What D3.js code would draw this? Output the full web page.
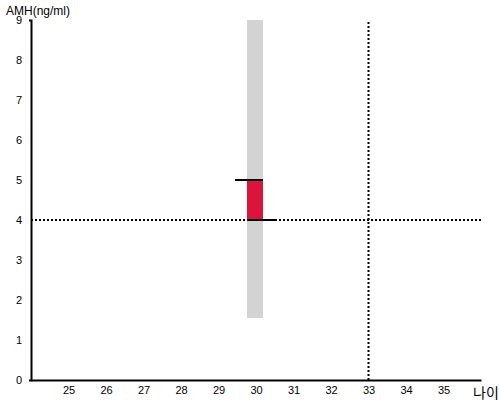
<!DOCTYPE html>
<html>
<head>
  <meta charset="utf-8">
  <script src="https://d3js.org/d3.v7.min.js"></script>
  <style>
    body { margin: 0; background: #fff; }
    text { font-family: "Liberation Sans", Arial, sans-serif; }
  </style>
</head>
<body>
<svg id="chart"></svg>
<script>
  // data
  var xTicks = [25, 26, 27, 28, 29, 30, 31, 32, 33, 34, 35];
  var yTicks = [0, 1, 2, 3, 4, 5, 6, 7, 8, 9];
  var myAge = 30;
  var rangeBand = [1.55, 9];     // grey band: normal AMH range at age
  var amhBar = [4, 5];           // red bar: value span
  var refAmh = 4;                // dotted horizontal
  var refAge = 33;               // dotted vertical

  var width = 500, height = 400;
  var svg = d3.select("#chart").attr("width", width).attr("height", height);

  var x = d3.scaleLinear().domain([24, 36]).range([31, 481]);
  var y = d3.scaleLinear().domain([0, 9]).range([380, 20]);

  var bw = 16;

  // grey band
  svg.append("rect")
    .attr("x", x(myAge) - bw / 2 - 1)
    .attr("width", bw)
    .attr("y", y(rangeBand[1]))
    .attr("height", y(rangeBand[0]) - y(rangeBand[1]))
    .attr("fill", "#d3d3d3");

  // red bar
  svg.append("rect")
    .attr("x", x(myAge) - bw / 2 - 1)
    .attr("width", bw)
    .attr("y", y(amhBar[1]))
    .attr("height", y(amhBar[0]) - y(amhBar[1]))
    .attr("fill", "#dc143c");

  // dotted reference lines
  svg.append("line")
    .attr("x1", x(24)).attr("x2", x(36))
    .attr("y1", y(refAmh)).attr("y2", y(refAmh))
    .attr("stroke", "#000").attr("stroke-width", 2)
    .attr("stroke-dasharray", "2,2");

  svg.append("line")
    .attr("x1", x(refAge)).attr("x2", x(refAge))
    .attr("y1", y(9) + 2).attr("y2", y(0))
    .attr("stroke", "#000").attr("stroke-width", 2)
    .attr("stroke-dasharray", "2,2");

  // caps on the bar
  svg.append("line")
    .attr("x1", x(myAge) - bw / 2 - 13).attr("x2", x(myAge) + bw / 2 - 1)
    .attr("y1", y(amhBar[1])).attr("y2", y(amhBar[1]))
    .attr("stroke", "#000").attr("stroke-width", 2);

  svg.append("line")
    .attr("x1", x(myAge) - bw / 2 - 1).attr("x2", x(myAge) + bw / 2 + 11)
    .attr("y1", y(amhBar[0])).attr("y2", y(amhBar[0]))
    .attr("stroke", "#000").attr("stroke-width", 2);

  // axes
  var xAxis = svg.append("g")
    .attr("transform", "translate(0," + y(0) + ")")
    .call(d3.axisBottom(x).tickValues(xTicks).tickSize(0).tickSizeOuter(0).tickPadding(6));

  var yAxis = svg.append("g")
    .attr("transform", "translate(" + x(24) + ",0)")
    .call(d3.axisLeft(y).tickValues(yTicks).tickSize(0).tickSizeOuter(2).tickPadding(9));

  [xAxis, yAxis].forEach(function (g) {
    g.select(".domain").attr("stroke", "#000").attr("stroke-width", 2);
    g.selectAll("text")
      .attr("fill", "#000")
      .style("font-size", "11px")
      .style("font-family", "'Liberation Sans', Arial, sans-serif");
  });

  // axis titles
  svg.append("text")
    .attr("x", 6).attr("y", 15)
    .style("font-size", "12px")
    .text("AMH(ng/ml)");

  svg.append("text")
    .attr("x", 473).attr("y", 398)
    .style("font-size", "14px")
    .style("font-family", "'Noto Sans CJK KR', sans-serif")
    .text("나이");
</script>
</body>
</html>
